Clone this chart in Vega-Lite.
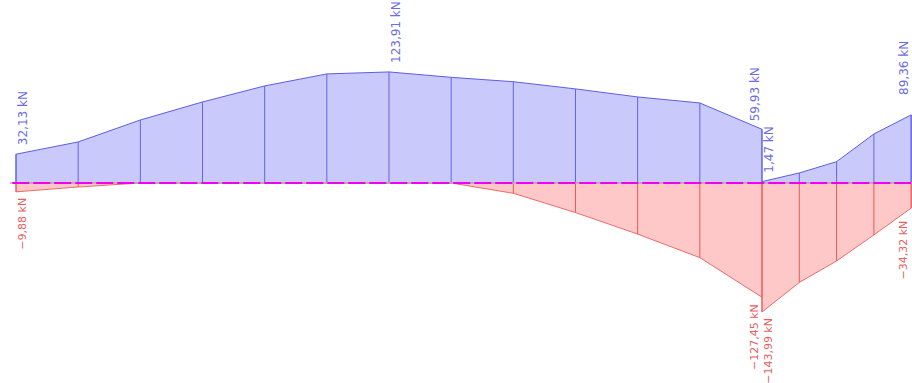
{
  "$schema": "https://vega.github.io/schema/vega-lite/v6.json",
  "width": 912,
  "height": 383,
  "autosize": "none",
  "padding": 0,
  "background": "white",
  "config": {"view": {"stroke": null}},
  "datasets": {
    "env": [
      {"i": 0, "x": 0.0, "max": 32.13, "min": -9.88},
      {"i": 1, "x": 0.5, "max": 45.8, "min": -4.5},
      {"i": 2, "x": 1.0, "max": 70.3, "min": 0},
      {"i": 3, "x": 1.5, "max": 90.4, "min": 0},
      {"i": 4, "x": 2.0, "max": 108.3, "min": 0},
      {"i": 5, "x": 2.5, "max": 121.7, "min": 0},
      {"i": 6, "x": 3.0, "max": 123.91, "min": 0},
      {"i": 7, "x": 3.5, "max": 117.9, "min": 0},
      {"i": 8, "x": 4.0, "max": 113.0, "min": -11.5},
      {"i": 9, "x": 4.5, "max": 105.0, "min": -33.0},
      {"i": 10, "x": 5.0, "max": 96.0, "min": -57.0},
      {"i": 11, "x": 5.5, "max": 89.3, "min": -83.3},
      {"i": 12, "x": 6.0, "max": 59.93, "min": -127.45},
      {"i": 13, "x": 6.0, "max": 1.47, "min": -143.99},
      {"i": 14, "x": 6.3, "max": 11.2, "min": -111.0},
      {"i": 15, "x": 6.6, "max": 23.8, "min": -87.0},
      {"i": 16, "x": 6.9, "max": 54.7, "min": -58.0},
      {"i": 17, "x": 7.2, "max": 76.0, "min": -28.0}
    ],
    "labels": [
      {"x": 0.0, "v": 32.13, "label": "32,13 kN", "kind": "max", "side": "right"},
      {"x": 3.0, "v": 123.91, "label": "123,91 kN", "kind": "max", "side": "right"},
      {"x": 6.0, "v": 59.93, "label": "59,93 kN", "kind": "max", "side": "left"},
      {"x": 6.0, "v": 1.47, "label": "1,47 kN", "kind": "max", "side": "right"},
      {"x": 7.2, "v": 89.36, "label": "89,36 kN", "kind": "max", "side": "left"},
      {"x": 0.0, "v": -9.88, "label": "−9,88 kN", "kind": "min", "side": "right"},
      {"x": 6.0, "v": -127.45, "label": "−127,45 kN", "kind": "min", "side": "left"},
      {"x": 6.0, "v": -143.99, "label": "−143,99 kN", "kind": "min", "side": "right"},
      {"x": 7.2, "v": -34.32, "label": "−34,32 kN", "kind": "min", "side": "left"}
    ]
  },
  "layer": [
    {
      "data": {"name": "env"},
      "mark": {"type": "area", "color": "#c9c9fb", "fillOpacity": 1, "stroke": "#5c5ce6", "strokeWidth": 1},
      "encoding": {
        "x": {"field": "x", "type": "quantitative", "scale": {"domain": [-0.1287, 7.2066]}, "axis": null},
        "y": {"field": "max", "type": "quantitative", "scale": {"domain": [-223.2, 204.2]}, "axis": null},
        "y2": {"datum": 0}
      }
    },
    {
      "data": {"name": "env"},
      "mark": {"type": "area", "color": "#ffc8c8", "fillOpacity": 1, "stroke": "#ee6a6a", "strokeWidth": 1},
      "encoding": {
        "x": {"field": "x", "type": "quantitative", "scale": {"domain": [-0.1287, 7.2066]}, "axis": null},
        "y": {"field": "min", "type": "quantitative", "scale": {"domain": [-223.2, 204.2]}, "axis": null},
        "y2": {"datum": 0}
      }
    },
    {
      "data": {"name": "env"},
      "mark": {"type": "rule", "color": "#6464e2", "strokeWidth": 1},
      "encoding": {
        "x": {"field": "x", "type": "quantitative", "scale": {"domain": [-0.1287, 7.2066]}, "axis": null},
        "y": {"field": "max", "type": "quantitative", "scale": {"domain": [-223.2, 204.2]}, "axis": null},
        "y2": {"datum": 0}
      }
    },
    {
      "data": {"name": "env"},
      "transform": [{"filter": "datum.min < 0"}],
      "mark": {"type": "rule", "color": "#e85a5a", "strokeWidth": 1},
      "encoding": {
        "x": {"field": "x", "type": "quantitative", "scale": {"domain": [-0.1287, 7.2066]}, "axis": null},
        "y": {"field": "min", "type": "quantitative", "scale": {"domain": [-223.2, 204.2]}, "axis": null},
        "y2": {"datum": 0}
      }
    },
    {
      "data": {"values": [{}]},
      "mark": {"type": "rule", "color": "#b4bca0", "strokeWidth": 1.5, "clip": true},
      "encoding": {
        "x": {"datum": -0.05, "type": "quantitative", "scale": {"domain": [-0.1287, 7.2066]}, "axis": null},
        "x2": {"datum": 7.5},
        "y": {"datum": 0, "type": "quantitative", "scale": {"domain": [-223.2, 204.2]}, "axis": null}
      }
    },
    {
      "data": {"values": [{}]},
      "mark": {"type": "rule", "color": "#f000f0", "strokeWidth": 2, "strokeDash": [17, 4], "clip": true},
      "encoding": {
        "x": {"datum": -0.03, "type": "quantitative", "scale": {"domain": [-0.1287, 7.2066]}, "axis": null},
        "x2": {"datum": 7.5},
        "y": {"datum": 0, "type": "quantitative", "scale": {"domain": [-223.2, 204.2]}, "axis": null}
      }
    },
    {
      "data": {"name": "labels"},
      "transform": [{"filter": "datum.kind == 'max' && datum.side == 'right'"}],
      "mark": {"type": "text", "angle": 270, "align": "left", "baseline": "middle", "dx": 9, "dy": 7, "font": "DejaVu Sans", "fontSize": 12, "color": "#6c6ce4"},
      "encoding": {
        "x": {"field": "x", "type": "quantitative", "scale": {"domain": [-0.1287, 7.2066]}, "axis": null},
        "y": {"field": "v", "type": "quantitative", "scale": {"domain": [-223.2, 204.2]}, "axis": null},
        "text": {"field": "label"}
      }
    },
    {
      "data": {"name": "labels"},
      "transform": [{"filter": "datum.kind == 'max' && datum.side == 'left'"}],
      "mark": {"type": "text", "angle": 270, "align": "left", "baseline": "middle", "dx": 8, "dy": -7, "font": "DejaVu Sans", "fontSize": 12, "color": "#6c6ce4"},
      "encoding": {
        "x": {"field": "x", "type": "quantitative", "scale": {"domain": [-0.1287, 7.2066]}, "axis": null},
        "y": {"field": "v", "type": "quantitative", "scale": {"domain": [-223.2, 204.2]}, "axis": null},
        "text": {"field": "label"}
      }
    },
    {
      "data": {"name": "labels"},
      "transform": [{"filter": "datum.kind == 'min' && datum.side == 'right'"}],
      "mark": {"type": "text", "angle": 270, "align": "right", "baseline": "middle", "dx": -6, "dy": 7, "font": "DejaVu Sans", "fontSize": 11, "color": "#e66060"},
      "encoding": {
        "x": {"field": "x", "type": "quantitative", "scale": {"domain": [-0.1287, 7.2066]}, "axis": null},
        "y": {"field": "v", "type": "quantitative", "scale": {"domain": [-223.2, 204.2]}, "axis": null},
        "text": {"field": "label"}
      }
    },
    {
      "data": {"name": "labels"},
      "transform": [{"filter": "datum.kind == 'min' && datum.side == 'left'"}],
      "mark": {"type": "text", "angle": 270, "align": "right", "baseline": "middle", "dx": -7, "dy": -7, "font": "DejaVu Sans", "fontSize": 11, "color": "#e66060"},
      "encoding": {
        "x": {"field": "x", "type": "quantitative", "scale": {"domain": [-0.1287, 7.2066]}, "axis": null},
        "y": {"field": "v", "type": "quantitative", "scale": {"domain": [-223.2, 204.2]}, "axis": null},
        "text": {"field": "label"}
      }
    }
  ]
}
